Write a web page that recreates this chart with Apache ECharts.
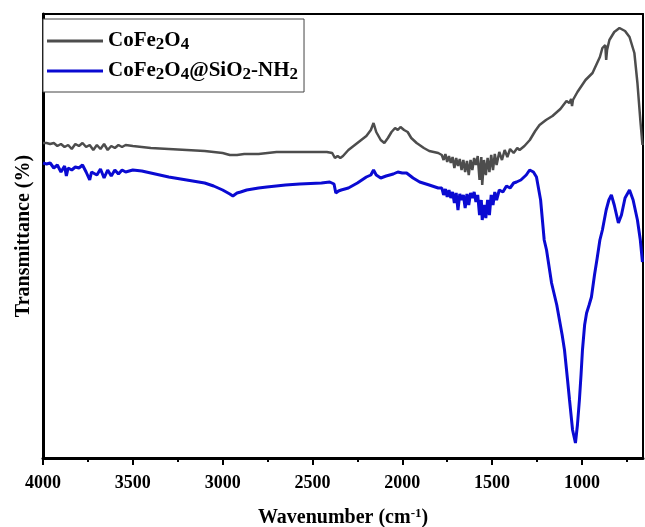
<!DOCTYPE html>
<html>
<head>
<meta charset="utf-8">
<script src="https://cdn.jsdelivr.net/npm/echarts@6/dist/echarts.min.js"></script>
<style>html,body{margin:0;padding:0;background:#fff;}#c{width:645px;height:527px;}</style>
</head>
<body>
<div id="c"></div>
<script>
// Wavenumber (cm-1), transmittance (arbitrary units)
const cofe2o4 = [
[4000,315],[3980,315],[3960,314],[3940,315],[3920,312],[3900,314],[3880,311],[3860,313],[3840,309],[3820,314],
[3800,312],[3780,315],[3760,311],[3740,313],[3720,308],[3700,313],[3680,309],[3660,314],[3640,308],[3620,312],
[3600,310],[3580,313],[3560,311],[3540,313],[3500,312],[3450,311],[3400,310],[3300,309],[3200,308],[3100,307],
[3000,305],[2960,303],[2920,303],[2880,304],[2800,304],[2700,306],[2600,306],[2500,306],[2420,306],[2390,305],
[2375,300],[2360,302],[2345,300],[2330,302],[2300,308],[2250,315],[2200,322],[2175,328],[2160,335],[2145,326],
[2120,318],[2100,315],[2080,320],[2060,326],[2040,330],[2025,328],[2010,331],[1990,328],[1970,326],[1950,320],
[1920,315],[1880,310],[1850,307],[1800,305],[1780,303],[1770,298],[1760,304],[1750,296],[1740,302],[1730,295],
[1720,301],[1710,290],[1700,300],[1690,292],[1680,299],[1670,288],[1660,298],[1650,286],[1640,297],[1630,283],
[1620,298],[1610,288],[1600,300],[1590,293],[1580,302],[1570,278],[1560,301],[1555,273],[1545,298],[1535,283],
[1525,300],[1515,286],[1505,303],[1495,288],[1485,304],[1475,293],[1460,306],[1445,298],[1430,308],[1415,301],
[1400,309],[1380,305],[1360,310],[1347,308],[1320,312],[1290,318],[1260,327],[1236,333],[1200,338],[1164,342],
[1120,349],[1086,357],[1070,355],[1060,359],[1055,352],[1050,358],[1040,360],[1025,366],[980,378],[941,385],
[900,401],[886,410],[870,413],[865,398],[860,408],[847,418],[820,426],[791,430],[760,427],[735,421],
[708,405],[691,375],[675,338],[663,313]
];
const cofe2o4SiO2NH2 = [
[4000,295],[3980,294],[3960,295],[3940,290],[3920,293],[3900,286],[3880,292],[3870,282],[3860,290],[3840,288],
[3820,291],[3800,290],[3780,293],[3760,286],[3740,278],[3730,286],[3720,288],[3700,283],[3680,289],[3660,280],
[3640,288],[3620,282],[3600,288],[3580,284],[3560,288],[3540,286],[3500,288],[3450,287],[3400,285],[3300,281],
[3200,278],[3100,275],[3050,272],[3000,268],[2960,264],[2943,262],[2920,265],[2900,266],[2866,268],[2800,270],
[2754,271],[2650,273],[2571,274],[2450,275],[2404,276],[2380,274],[2370,265],[2355,267],[2340,268],[2300,270],
[2250,275],[2200,281],[2175,283],[2160,288],[2145,283],[2120,280],[2090,282],[2050,284],[2025,286],[2000,285],
[1976,285],[1940,280],[1903,276],[1850,273],[1800,270],[1780,270],[1770,263],[1760,269],[1750,261],[1740,268],
[1730,260],[1720,266],[1710,255],[1700,265],[1690,248],[1680,264],[1670,258],[1660,263],[1650,250],[1640,264],
[1630,253],[1620,265],[1610,260],[1600,266],[1590,256],[1580,263],[1570,243],[1560,258],[1555,238],[1545,253],
[1535,240],[1525,258],[1515,243],[1505,263],[1495,253],[1485,266],[1475,258],[1460,268],[1440,266],[1420,272],
[1400,270],[1380,275],[1364,276],[1340,278],[1310,283],[1291,288],[1270,286],[1253,281],[1230,258],[1210,218],
[1197,208],[1169,175],[1140,153],[1125,138],[1110,123],[1097,108],[1080,78],[1069,58],[1052,28],[1036,15],
[1025,33],[1014,58],[1005,83],[997,108],[985,133],[974,145],[960,153],[947,161],[930,183],[915,200],
[900,218],[886,228],[865,248],[850,258],[836,263],[820,253],[797,235],[780,243],[760,260],[735,268],
[715,258],[691,238],[675,218],[663,196]
];
const majorTicks = [4000,3500,3000,2500,2000,1500,1000];
const minorTicks = [3750,3250,2750,2250,1750,1250,750];
const seriesNames = ['CoFe2O4','CoFe2O4@SiO2-NH2'];

const FONT = 'Liberation Serif';
const chart = echarts.init(document.getElementById('c'));
const xMin = 660, xMax = 4000, yMin = 0, yMax = 444;
chart.setOption({
  animation: false,
  backgroundColor: '#fff',
  grid: {left: 43, right: 2, top: 14, bottom: 69, outerBoundsMode: 'none', containLabel: false},
  legend: {
    left: 43, top: 19, orient: 'vertical',
    padding: [10, 6, 9, 4],
    itemGap: 6,
    icon: 'rect',
    itemWidth: 56, itemHeight: 3,
    borderColor: '#444', borderWidth: 1, backgroundColor: '#fff',
    borderRadius: 0,
    data: seriesNames,
    formatter: function (name) {
      if (name === seriesNames[0]) return '{b|CoFe}{s|2}{b|O}{s|4}';
      return '{b|CoFe}{s|2}{b|O}{s|4}{b|@SiO}{s|2}{b|-NH}{s|2}';
    },
    textStyle: {
      color: '#000',
      rich: {
        b: {fontFamily: FONT, fontWeight: 'bold', fontSize: 21, color: '#000', lineHeight: 24, verticalAlign: 'middle'},
        s: {fontFamily: FONT, fontWeight: 'bold', fontSize: 17, color: '#000', lineHeight: 24, verticalAlign: 'bottom', padding: [7, 0, 0, 0]}
      }
    }
  },
  xAxis: [{
    type: 'value', min: xMin, max: xMax, inverse: true,
    position: 'bottom',
    name: '{b|Wavenumber (cm}{sup|-1}{b|)}',
    nameLocation: 'middle', nameGap: 49,
    nameTextStyle: {
      rich: {
        b: {fontFamily: FONT, fontWeight: 'bold', fontSize: 20, color: '#000', lineHeight: 22},
        sup: {fontFamily: FONT, fontWeight: 'bold', fontSize: 13, color: '#000', verticalAlign: 'top', lineHeight: 22, padding: [0, 0, 8, 0]}
      }
    },
    axisLine: {show: true, onZero: false, lineStyle: {color: '#000', width: 3}},
    axisTick: {show: true, customValues: majorTicks, length: 7, lineStyle: {color: '#000', width: 2}},
    axisLabel: {show: true, customValues: majorTicks, margin: 16, fontFamily: FONT, fontWeight: 'bold', fontSize: 18, color: '#000',
      formatter: function (v) { return String(v); }},
    splitLine: {show: false}
  }, {
    type: 'value', min: xMin, max: xMax, inverse: true,
    position: 'bottom',
    axisLine: {show: false},
    axisTick: {show: true, customValues: minorTicks, length: 4, lineStyle: {color: '#000', width: 2}},
    axisLabel: {show: false},
    splitLine: {show: false}
  }, {
    type: 'value', min: xMin, max: xMax, inverse: true,
    position: 'top',
    axisLine: {show: true, onZero: false, lineStyle: {color: '#000', width: 2}},
    axisTick: {show: false}, axisLabel: {show: false}, splitLine: {show: false}
  }],
  yAxis: [{
    type: 'value', min: yMin, max: yMax, position: 'left',
    name: 'Transmittance (%)', nameLocation: 'middle', nameGap: 9,
    nameTextStyle: {fontFamily: FONT, fontWeight: 'bold', fontSize: 20, color: '#000'},
    axisLine: {show: true, onZero: false, lineStyle: {color: '#000', width: 3}},
    axisTick: {show: false}, axisLabel: {show: false}, splitLine: {show: false}
  }, {
    type: 'value', min: yMin, max: yMax, position: 'right',
    axisLine: {show: true, onZero: false, lineStyle: {color: '#000', width: 2}},
    axisTick: {show: false}, axisLabel: {show: false}, splitLine: {show: false}
  }],
  series: [{
    name: seriesNames[0], type: 'line', data: cofe2o4, showSymbol: false, symbol: 'none',
    lineStyle: {color: '#4d4d4d', width: 2.5}, itemStyle: {color: '#4d4d4d'}, z: 3
  }, {
    name: seriesNames[1], type: 'line', data: cofe2o4SiO2NH2, showSymbol: false, symbol: 'none',
    lineStyle: {color: '#0a0ad2', width: 3}, itemStyle: {color: '#0a0ad2'}, z: 4
  }]
});
</script>
</body>
</html>
